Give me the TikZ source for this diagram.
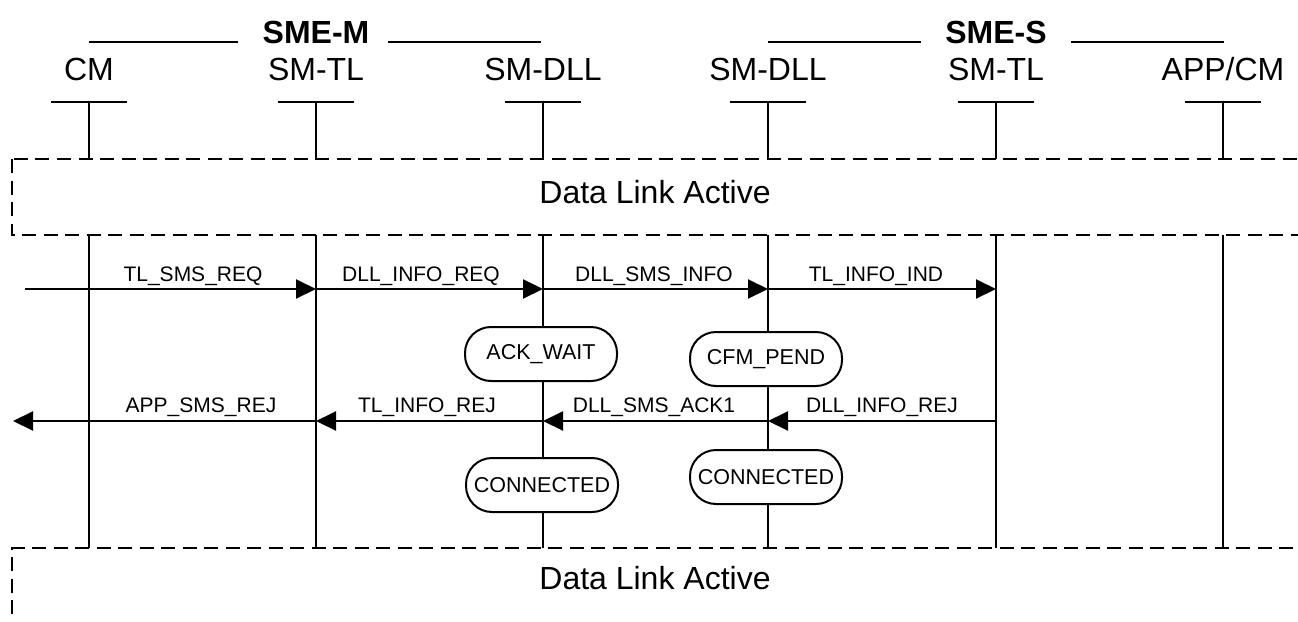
\documentclass[tikz,border=0pt]{standalone}
\usepackage{fontspec}
\setmainfont{Liberation Sans}
\usetikzlibrary{arrows.meta}

\tikzset{
  lifeline/.style={line width=2pt},
  msg/.style={line width=2pt, -{Triangle[length=20pt,width=19pt]}},
  linkbox/.style={line width=2.2pt, dash pattern=on 14pt off 7.5pt},
  statebox/.style={draw, fill=white, line width=2pt, rounded corners=26pt,
    minimum width=152pt, minimum height=54pt, inner sep=0pt,
    font=\fontsize{21.5}{25}\selectfont},
  entity/.style={font=\fontsize{32}{38}\selectfont, anchor=base},
  msglabel/.style={font=\fontsize{21}{25}\selectfont, anchor=base},
}

\begin{document}
\begin{tikzpicture}[x=1pt, y=-1pt]
                    \useasboundingbox (0,0) rectangle (1298,621);

                    \node[entity, font=\fontsize{32}{38}\bfseries] (smem) at (316,43) {SME-M};
                    \draw[lifeline] (89,42) -- (238,42);
                    \draw[lifeline] (388,42) -- (541,42);
                    \node[entity, font=\fontsize{32}{38}\bfseries] (smes) at (996,43) {SME-S};
                    \draw[lifeline] (768,42) -- (921,42);
                    \draw[lifeline] (1071,42) -- (1224,42);

                    \node[entity] (cm-name) at (89,80) {CM};
                    \node[entity] (smtlm-name) at (316,80) {SM-TL};
                    \node[entity] (dllm-name) at (543,80) {SM-DLL};
                    \node[entity] (dlls-name) at (768,80) {SM-DLL};
                    \node[entity] (smtls-name) at (996,80) {SM-TL};
                    \node[entity] (app-name) at (1223,80) {APP/CM};

                    \foreach \name/\x in {cm/89, smtlm/316, dllm/543, dlls/768, smtls/996, app/1223} {
                        \coordinate (\name-head) at (\x,102);
                        \coordinate (\name-top) at (\x,159);
                        \coordinate (\name-up) at (\x,235);
                        \coordinate (\name-req) at (\x,289);
                        \coordinate (\name-rej) at (\x,421);
                        \coordinate (\name-low) at (\x,548);
                        \draw[lifeline] (\x-38,102) -- (\x+38,102);
                        \draw[lifeline] (\name-head) -- (\name-top);
                        \draw[lifeline] (\name-up) -- (\name-low);
                    }

                    \draw[linkbox] (12,159) rectangle (1320,235);
                    \node[entity] (link1) at (655,203) {Data Link Active};
                    \draw[linkbox] (12,700) -- (12,548) -- (1320,548);
                    \node[entity] (link2) at (655,589) {Data Link Active};

                    \coordinate (in) at (25,289);
                    \coordinate (out) at (13,421);

                    \draw[msg] (in) -- (smtlm-req);
                    \node[msglabel] at (193,281) {TL\_SMS\_REQ};
                    \draw[msg] (smtlm-req) -- (dllm-req);
                    \node[msglabel] at (421,281) {DLL\_INFO\_REQ};
                    \draw[msg] (dllm-req) -- (dlls-req);
                    \node[msglabel] at (654,281) {DLL\_SMS\_INFO};
                    \draw[msg] (dlls-req) -- (smtls-req);
                    \node[msglabel] at (876,281) {TL\_INFO\_IND};

                    \node[statebox] (ackwait) at (541,354) {ACK\_WAIT};
                    \node[statebox] (cfmpend) at (766,359) {CFM\_PEND};

                    \draw[msg] (smtls-rej) -- (dlls-rej);
                    \node[msglabel] at (882,412) {DLL\_INFO\_REJ};
                    \draw[msg] (dlls-rej) -- (dllm-rej);
                    \node[msglabel] at (654,412) {DLL\_SMS\_ACK1};
                    \draw[msg] (dllm-rej) -- (smtlm-rej);
                    \node[msglabel] at (427,412) {TL\_INFO\_REJ};
                    \draw[msg] (smtlm-rej) -- (out);
                    \node[msglabel] at (201,412) {APP\_SMS\_REJ};

                    \node[statebox] (conm) at (542,485) {CONNECTED};
                    \node[statebox] (cons) at (766,477) {CONNECTED};

                \end{tikzpicture}
\end{document}
